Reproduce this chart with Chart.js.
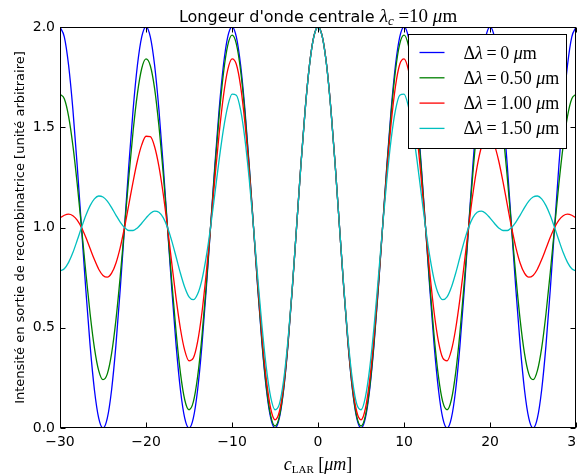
<!DOCTYPE html>
<html>
<head>
<meta charset="utf-8">
<script src="https://cdn.jsdelivr.net/npm/chart.js@4"></script>
<style>
  html, body { margin: 0; padding: 0; background: #fff; overflow: hidden; }
  #wrap { width: 577px; height: 475px; overflow: hidden; }
  #inner { width: 700px; height: 475px; }
  canvas { display: block; }
</style>
</head>
<body>
<div id="wrap"><div id="inner"><canvas id="chart" width="588" height="475"></canvas></div></div>
<script>
// Position c_LAR (µm)
const positions = [-30, -29.5, -29, -28.5, -28, -27.5, -27, -26.5, -26, -25.5,
                   -25, -24.5, -24, -23.5, -23, -22.5, -22, -21.5, -21, -20.5,
                   -20, -19.5, -19, -18.5, -18, -17.5, -17, -16.5, -16, -15.5,
                   -15, -14.5, -14, -13.5, -13, -12.5, -12, -11.5, -11, -10.5,
                   -10, -9.5, -9, -8.5, -8, -7.5, -7, -6.5, -6, -5.5,
                   -5, -4.5, -4, -3.5, -3, -2.5, -2, -1.5, -1, -0.5,
                   0, 0.5, 1, 1.5, 2, 2.5, 3, 3.5, 4, 4.5,
                   5, 5.5, 6, 6.5, 7, 7.5, 8, 8.5, 9, 9.5,
                   10, 10.5, 11, 11.5, 12, 12.5, 13, 13.5, 14, 14.5,
                   15, 15.5, 16, 16.5, 17, 17.5, 18, 18.5, 19, 19.5,
                   20, 20.5, 21, 21.5, 22, 22.5, 23, 23.5, 24, 24.5,
                   25, 25.5, 26, 26.5, 27, 27.5, 28, 28.5, 29, 29.5,
                   30];

// Intensité, Δλ = 0 µm
const int0 = [2.000, 1.951, 1.809, 1.588, 1.309, 1.000, 0.691, 0.412, 0.191, 0.049,
              0.000, 0.049, 0.191, 0.412, 0.691, 1.000, 1.309, 1.588, 1.809, 1.951,
              2.000, 1.951, 1.809, 1.588, 1.309, 1.000, 0.691, 0.412, 0.191, 0.049,
              0.000, 0.049, 0.191, 0.412, 0.691, 1.000, 1.309, 1.588, 1.809, 1.951,
              2.000, 1.951, 1.809, 1.588, 1.309, 1.000, 0.691, 0.412, 0.191, 0.049,
              0.000, 0.049, 0.191, 0.412, 0.691, 1.000, 1.309, 1.588, 1.809, 1.951,
              2.000, 1.951, 1.809, 1.588, 1.309, 1.000, 0.691, 0.412, 0.191, 0.049,
              0.000, 0.049, 0.191, 0.412, 0.691, 1.000, 1.309, 1.588, 1.809, 1.951,
              2.000, 1.951, 1.809, 1.588, 1.309, 1.000, 0.691, 0.412, 0.191, 0.049,
              0.000, 0.049, 0.191, 0.412, 0.691, 1.000, 1.309, 1.588, 1.809, 1.951,
              2.000, 1.951, 1.809, 1.588, 1.309, 1.000, 0.691, 0.412, 0.191, 0.049,
              0.000, 0.049, 0.191, 0.412, 0.691, 1.000, 1.309, 1.588, 1.809, 1.951,
              2.000];

// Δλ = 0.50 µm
const int050 = [1.665, 1.642, 1.554, 1.408, 1.218, 1.000, 0.777, 0.570, 0.400, 0.286,
                0.241, 0.270, 0.372, 0.538, 0.755, 1.000, 1.250, 1.481, 1.668, 1.793,
                1.841, 1.807, 1.693, 1.507, 1.269, 1.000, 0.727, 0.477, 0.275, 0.141,
                0.091, 0.130, 0.256, 0.456, 0.712, 1.000, 1.291, 1.556, 1.769, 1.908,
                1.959, 1.916, 1.782, 1.570, 1.301, 1.000, 0.697, 0.422, 0.203, 0.061,
                0.010, 0.057, 0.196, 0.415, 0.692, 1.000, 1.309, 1.587, 1.809, 1.951,
                2.000, 1.951, 1.809, 1.587, 1.309, 1.000, 0.692, 0.415, 0.196, 0.057,
                0.010, 0.061, 0.203, 0.422, 0.697, 1.000, 1.301, 1.570, 1.782, 1.916,
                1.959, 1.908, 1.769, 1.556, 1.291, 1.000, 0.712, 0.456, 0.256, 0.130,
                0.091, 0.141, 0.275, 0.477, 0.727, 1.000, 1.269, 1.507, 1.693, 1.807,
                1.841, 1.793, 1.668, 1.481, 1.250, 1.000, 0.755, 0.538, 0.372, 0.270,
                0.241, 0.286, 0.400, 0.570, 0.777, 1.000, 1.218, 1.408, 1.554, 1.642,
                1.665];

// Δλ = 1.00 µm
const int100 = [1.047, 1.061, 1.067, 1.059, 1.037, 1.000, 0.951, 0.895, 0.840, 0.792,
                0.761, 0.752, 0.772, 0.822, 0.900, 1.000, 1.114, 1.229, 1.333, 1.412,
                1.455, 1.453, 1.403, 1.305, 1.167, 1.000, 0.820, 0.645, 0.495, 0.387,
                0.335, 0.349, 0.431, 0.575, 0.771, 1.000, 1.240, 1.467, 1.655, 1.786,
                1.841, 1.814, 1.704, 1.520, 1.277, 1.000, 0.716, 0.453, 0.239, 0.096,
                0.041, 0.081, 0.212, 0.424, 0.696, 1.000, 1.307, 1.586, 1.808, 1.951,
                2.000, 1.951, 1.808, 1.586, 1.307, 1.000, 0.696, 0.424, 0.212, 0.081,
                0.041, 0.096, 0.239, 0.453, 0.716, 1.000, 1.277, 1.520, 1.704, 1.814,
                1.841, 1.786, 1.655, 1.467, 1.240, 1.000, 0.771, 0.575, 0.431, 0.349,
                0.335, 0.387, 0.495, 0.645, 0.820, 1.000, 1.167, 1.305, 1.403, 1.453,
                1.455, 1.412, 1.333, 1.229, 1.114, 1.000, 0.900, 0.822, 0.772, 0.752,
                0.761, 0.792, 0.840, 0.895, 0.951, 1.000, 1.037, 1.059, 1.067, 1.061,
                1.047];

// Δλ = 1.50 µm
const int150 = [0.783, 0.794, 0.826, 0.875, 0.936, 1.000, 1.060, 1.109, 1.143, 1.157,
                1.152, 1.132, 1.099, 1.062, 1.027, 1.000, 0.985, 0.985, 0.998, 1.021,
                1.047, 1.070, 1.082, 1.076, 1.049, 1.000, 0.932, 0.853, 0.772, 0.702,
                0.654, 0.640, 0.668, 0.739, 0.853, 1.000, 1.167, 1.337, 1.489, 1.604,
                1.665, 1.660, 1.585, 1.441, 1.240, 1.000, 0.745, 0.501, 0.296, 0.153,
                0.091, 0.119, 0.239, 0.439, 0.701, 1.000, 1.304, 1.583, 1.806, 1.950,
                2.000, 1.950, 1.806, 1.583, 1.304, 1.000, 0.701, 0.439, 0.239, 0.119,
                0.091, 0.153, 0.296, 0.501, 0.745, 1.000, 1.240, 1.441, 1.585, 1.660,
                1.665, 1.604, 1.489, 1.337, 1.167, 1.000, 0.853, 0.739, 0.668, 0.640,
                0.654, 0.702, 0.772, 0.853, 0.932, 1.000, 1.049, 1.076, 1.082, 1.070,
                1.047, 1.021, 0.998, 0.985, 0.985, 1.000, 1.027, 1.062, 1.099, 1.132,
                1.152, 1.157, 1.143, 1.109, 1.060, 1.000, 0.936, 0.875, 0.826, 0.794,
                0.783];

const deltaLabels = ['0', '0.50', '1.00', '1.50'];
const seriesColors = ['#0000ff', '#008000', '#ff0000', '#00bfbf'];

const xTickValues = [-30, -20, -10, 0, 10, 20, 30];
const xTickLabels = ['\u221230', '\u221220', '\u221210', '0', '10', '20', '30'];
const yTickValues = [0, 0.5, 1, 1.5, 2];
const yTickLabels = ['0.0', '0.5', '1.0', '1.5', '2.0'];

const SANS = 'DejaVu Sans';
const SERIF = 'Liberation Serif';

// wanted plot box inside the 577 px window
const AREA_LEFT = 59.5, AREA_RIGHT = 575.5;

// draw a run of text pieces with different fonts: [text, font, dy]
function drawRich(ctx, parts, x, y, align) {
    let total = 0;
    parts.forEach(p => { ctx.font = p[1]; total += ctx.measureText(p[0]).width; });
    let cx = align === 'center' ? x - total / 2 : x;
    parts.forEach(p => {
        ctx.font = p[1];
        ctx.fillText(p[0], cx, y + (p[2] || 0));
        cx += ctx.measureText(p[0]).width;
    });
}

const decorations = {
    id: 'decorations',
    afterDatasetsDraw(chart) {
        const ctx = chart.ctx;
        const area = chart.chartArea;
        const xs = chart.scales.x, ys = chart.scales.y;
        ctx.save();
        ctx.strokeStyle = '#000';
        ctx.lineWidth = 1;

        // frame
        const L = Math.round(area.left) + 0.5, R = Math.round(area.right) - 0.5;
        const T = Math.round(area.top) + 0.5, B = Math.round(area.bottom) - 0.5;
        ctx.strokeRect(L, T, R - L, B - T);

        // inward ticks on all sides
        const tl = 5;
        ctx.beginPath();
        xTickValues.forEach(v => {
            const px = Math.round(xs.getPixelForValue(v)) + 0.5;
            ctx.moveTo(px, B); ctx.lineTo(px, B - tl);
            ctx.moveTo(px, T); ctx.lineTo(px, T + tl);
        });
        yTickValues.forEach(v => {
            const py = Math.round(ys.getPixelForValue(v)) + 0.5;
            ctx.moveTo(L, py); ctx.lineTo(L + tl, py);
            ctx.moveTo(R, py); ctx.lineTo(R - tl, py);
        });
        ctx.stroke();

        ctx.fillStyle = '#000';
        ctx.textBaseline = 'alphabetic';

        // title
        const midX = (area.left + area.right) / 2;
        drawRich(ctx, [
            ["Longeur d'onde centrale ", '16px ' + SANS],
            ['\u03bb', 'italic 19px ' + SERIF],
            ['c', 'italic 13px ' + SERIF, 3],
            [' =10 ', '19px ' + SERIF],
            ['\u03bc', 'italic 19px ' + SERIF],
            ['m', '19px ' + SERIF]
        ], midX, 22, 'center');

        // x axis label
        drawRich(ctx, [
            ['c', 'italic 18px ' + SERIF],
            ['LAR', '11px ' + SERIF, 3],
            [' [', '18px ' + SERIF],
            ['\u03bcm', 'italic 18px ' + SERIF],
            [']', '18px ' + SERIF]
        ], midX, 470, 'center');

        // legend
        const bw = 158, bh = 114;
        const bx = Math.round(area.right - 10 - bw) + 0.5;
        const by = Math.round(area.top + 7) + 0.5;
        ctx.fillStyle = '#fff';
        ctx.fillRect(bx, by, bw, bh);
        ctx.strokeRect(bx, by, bw, bh);
        deltaLabels.forEach((d, i) => {
            const cy = by + 18 + i * 25.3;
            ctx.strokeStyle = seriesColors[i];
            ctx.lineWidth = 1.3;
            ctx.beginPath();
            ctx.moveTo(bx + 11, cy);
            ctx.lineTo(bx + 36, cy);
            ctx.stroke();
            ctx.fillStyle = '#000';
            drawRich(ctx, [
                ['\u0394', '18px ' + SERIF],
                ['\u03bb', 'italic 18px ' + SERIF],
                ['\u2009=\u2009' + d + ' ', '18px ' + SERIF],
                ['\u03bc', 'italic 18px ' + SERIF],
                ['m', '18px ' + SERIF]
            ], bx + 55, cy + 6, 'left');
        });
        ctx.restore();
    }
};

const seriesData = [int0, int050, int100, int150];
const canvas = document.getElementById('chart');

function makeChart() {
    return new Chart(canvas.getContext('2d'), {
        type: 'line',
        data: {
            datasets: seriesData.map((arr, i) => ({
                label: '\u0394\u03bb=' + deltaLabels[i] + ' \u03bcm',
                data: positions.map((x, j) => ({ x: x, y: arr[j] })),
                borderColor: seriesColors[i],
                borderWidth: 1.3,
                pointRadius: 0,
                fill: false,
                cubicInterpolationMode: 'monotone',
                order: 4 - i
            }))
        },
        options: {
            responsive: false,
            animation: false,
            layout: { padding: { top: 27, left: 0, right: 0, bottom: 0 } },
            plugins: {
                legend: { display: false },
                tooltip: { enabled: false }
            },
            scales: {
                x: {
                    type: 'linear',
                    min: -30,
                    max: 30,
                    grid: { display: false, drawTicks: false },
                    border: { display: false },
                    afterBuildTicks: s => { s.ticks = xTickValues.map(v => ({ value: v })); },
                    afterFit: s => { s.height = 47; },
                    ticks: {
                        color: '#000',
                        padding: 6,
                        maxRotation: 0,
                        font: { family: SANS, size: 14 },
                        callback: (v) => xTickLabels[xTickValues.indexOf(v)]
                    }
                },
                y: {
                    min: 0,
                    max: 2,
                    grid: { display: false, drawTicks: false },
                    border: { display: false },
                    afterBuildTicks: s => { s.ticks = yTickValues.map(v => ({ value: v })); },
                    afterFit: s => { s.width = 59; },
                    ticks: {
                        color: '#000',
                        padding: 5,
                        font: { family: SANS, size: 14 },
                        callback: (v) => yTickLabels[yTickValues.indexOf(v)]
                    },
                    title: {
                        display: true,
                        text: 'Intensit\u00e9 en sortie de recombinatrice [unit\u00e9 arbitraire]',
                        color: '#000',
                        font: { family: SANS, size: 13 },
                        padding: { top: 12, bottom: 0 }
                    }
                }
            }
        },
        plugins: [decorations]
    });
}

// first pass measures the plot box, second pass fits it to the wanted box
let chart = makeChart();
const a = chart.chartArea;
const newWidth = Math.round(canvas.width + (AREA_RIGHT - AREA_LEFT) - (a.right - a.left));
chart.destroy();
canvas.width = newWidth;
canvas.height = 475;
chart = makeChart();
canvas.style.marginLeft = Math.round(AREA_LEFT - chart.chartArea.left) + 'px';
</script>
</body>
</html>
